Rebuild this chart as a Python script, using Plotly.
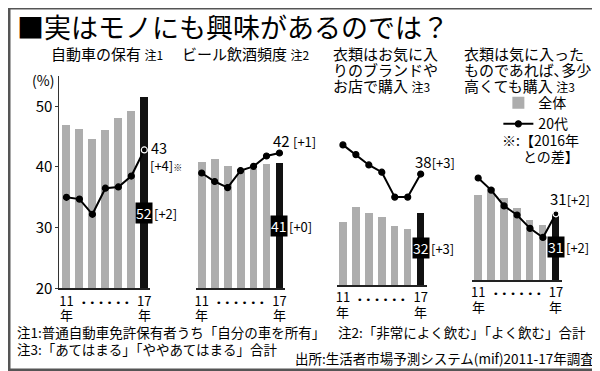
import plotly.graph_objects as go

# ---------------- data ----------------
years = ["11", "12", "13", "14", "15", "16", "17"]
year_suffix = "年"

car_all = [46.9, 46.2, 44.7, 46.1, 48.1, 49.3, 51.6]
car_20s = [35.0, 34.7, 32.2, 36.5, 36.7, 38.5, 42.8]

beer_all = [40.9, 41.4, 40.1, 39.7, 39.7, 40.5, 40.6]
beer_20s = [39.0, 37.6, 36.6, 39.4, 40.1, 41.8, 42.3]

brand_all = [30.4, 33.0, 32.0, 31.2, 29.8, 29.3, 31.9]
brand_20s = [43.1, 41.5, 39.8, 38.6, 34.5, 34.5, 38.3]

pricey_all = [34.0, 35.2, 33.5, 31.9, 29.9, 29.2, 31.0]
pricey_20s = [36.8, 34.8, 32.2, 30.7, 28.5, 27.0, 30.9]

all_labels = ["52", "41", "32", "31"]
all_diffs = ["[+2]", "[+0]", "[+3]", "[+2]"]
young_labels = ["43", "42", "38", "31"]
young_diffs = ["[+4]", "[+1]", "[+3]", "[+2]"]

panel_titles = [
    ["自動車の保有 <span style='font-size:12px'>注1</span>"],
    ["ビール飲酒頻度 <span style='font-size:12px'>注2</span>"],
    ["衣類はお気に入", "りのブランドや", "お店で購入 <span style='font-size:12px'>注3</span>"],
    ["衣類は気に入った", "ものであれば､多少", "高くても購入 <span style='font-size:12px'>注3</span>"],
]

FONT = "Noto Sans CJK JP, Noto Sans, sans-serif"
W, H = 600, 371
GRAY = "#adadad"
BLACK = "#111111"

def px(x):
    return x / W

def py(y):
    return 1 - y / H

# panel geometry (pixels)
x_domains = [(50.5, 141.6), (187.5, 277.2), (329.2, 418.9), (464.9, 554.6)]
baselines = [287.3, 287.3, 284.0, 278.7]
unit = 6.22  # px per percentage point
yr = (20, 55)

fig = go.Figure()

series = [(car_all, car_20s), (beer_all, beer_20s), (brand_all, brand_20s), (pricey_all, pricey_20s)]
xs = list(range(len(years)))

for i, (a, y20) in enumerate(series):
    sfx = "" if i == 0 else str(i + 1)
    colors = [GRAY] * (len(a) - 1) + [BLACK]
    fig.add_trace(go.Bar(
        x=xs, y=a, width=0.59, marker=dict(color=colors, line=dict(width=0)),
        name="全体", showlegend=(i == 0), legendrank=1,
        xaxis="x" + sfx, yaxis="y" + sfx, hoverinfo="skip"))
    mline = ["black"] * (len(y20) - 1) + ["white" if y20[-1] < a[-1] + 0.5 else "black"]
    fig.add_trace(go.Scatter(
        x=xs, y=y20, mode="lines+markers",
        line=dict(color="black", width=2),
        marker=dict(color="black", size=6, line=dict(color=mline, width=1.2)),
        name="20代", showlegend=(i == 0), legendrank=2,
        xaxis="x" + sfx, yaxis="y" + sfx, hoverinfo="skip"))

layout = dict(
    width=W, height=H, margin=dict(l=0, r=0, t=0, b=0),
    paper_bgcolor="white", plot_bgcolor="white",
    font=dict(family=FONT, color="black"),
    bargap=0,
    showlegend=True,
    legend=dict(x=px(491), y=py(81), xanchor="left", yanchor="top",
                font=dict(size=14, family=FONT), bgcolor="rgba(0,0,0,0)",
                itemwidth=30, tracegroupgap=0, traceorder="normal"),
)

tick_idx = [0, len(years) - 1]
for i in range(4):
    sfx = "" if i == 0 else str(i + 1)
    x0, x1 = x_domains[i]
    b = baselines[i]
    top = b - unit * (yr[1] - yr[0])
    layout["xaxis" + sfx] = dict(
        domain=[px(x0), px(x1)], range=[-0.55 if i == 0 else -0.45, 6.45],
        anchor="y" + sfx, showline=True, linecolor="#222", linewidth=1.5,
        showgrid=False, zeroline=False, ticks="",
        tickvals=tick_idx, ticktext=[years[k] for k in tick_idx],
        tickfont=dict(size=13, family=FONT, color="black"), fixedrange=True)
    ydict = dict(domain=[py(b), py(top)], range=list(yr), anchor="x" + sfx,
                 showgrid=False, zeroline=False, fixedrange=True)
    if i == 0:
        ydict.update(showline=True, linecolor="#333", linewidth=1,
                     tickvals=[20, 30, 40, 50], ticks="outside", ticklen=3,
                     tickcolor="#333", tickfont=dict(size=15, family=FONT, color="black"))
    else:
        ydict.update(visible=False)
    layout["yaxis" + sfx] = ydict

fig.update_layout(**layout)

ann = []
# title
ann.append(dict(text="■実はモノにも興味があるのでは？", x=px(6), y=py(19), xref="paper", yref="paper",
                xanchor="left", yanchor="middle", showarrow=False,
                font=dict(size=27, family=FONT, color="black")))
# panel titles
title_x = [40, 172, 323, 455]
for i, lines in enumerate(panel_titles):
    for j, t in enumerate(lines):
        ann.append(dict(text=t, x=px(title_x[i]), y=py(47 + 16 * j), xref="paper", yref="paper",
                        xanchor="left", yanchor="middle", showarrow=False,
                        font=dict(size=15, family=FONT, color="black")))
# (%)
ann.append(dict(text="(%)", x=px(47), y=py(74), xref="paper", yref="paper", xanchor="right",
                yanchor="middle", showarrow=False, font=dict(size=14, family=FONT)))
# legend note
ann.append(dict(text="※:【2016年", x=px(574), y=py(135.5), xref="paper", yref="paper", xanchor="right",
                yanchor="middle", showarrow=False, font=dict(size=14, family=FONT)))
ann.append(dict(text="との差】", x=px(574), y=py(152), xref="paper", yref="paper", xanchor="right",
                yanchor="middle", showarrow=False, font=dict(size=14, family=FONT)))

for i in range(4):
    sfx = "" if i == 0 else str(i + 1)
    # dots between years
    ann.append(dict(text="• • • • • •", x=3, y=0, xref="x" + sfx, yref="y" + sfx + " domain",
                    xanchor="center", yanchor="middle", yshift=-14, showarrow=False,
                    font=dict(size=9.5, family="DejaVu Sans")))
    # 年 under the tick years
    for k in tick_idx:
        ann.append(dict(text=year_suffix, x=k, y=0, xref="x" + sfx, yref="y" + sfx + " domain",
                        xanchor="center", yanchor="middle", yshift=-26.5, showarrow=False,
                        font=dict(size=13, family=FONT)))

# value labels for 全体 (black boxes)
box_y = [32.4, 30.2, 26.1, 25.4]
for i in range(4):
    sfx = "" if i == 0 else str(i + 1)
    ann.append(dict(text=all_labels[i], x=6, y=box_y[i], xref="x" + sfx, yref="y" + sfx,
                    xanchor="center", yanchor="middle", showarrow=False, bgcolor="black",
                    borderpad=0, font=dict(size=14, color="white", family=FONT)))
    ann.append(dict(text=all_diffs[i], x=6, y=box_y[i], xref="x" + sfx, yref="y" + sfx,
                    xanchor="left", yanchor="middle", xshift=8, showarrow=False,
                    font=dict(size=13, family=FONT)))

# value labels for 20代
ann.append(dict(text=young_labels[0], x=6, y=car_20s[-1], xref="x", yref="y", xanchor="left",
                yanchor="middle", xshift=5, yshift=2, showarrow=False, font=dict(size=14.5, family=FONT)))
ann.append(dict(text=young_diffs[0] + "<span style='font-size:9px'>※</span>", x=6, y=car_20s[-1],
                xref="x", yref="y", xanchor="left", yanchor="middle", xshift=4, yshift=-15.5,
                showarrow=False, font=dict(size=13, family=FONT)))
shifts = [None, (-8, 12), (-8, 13), (-8, 15)]
lasts = [car_20s[-1], beer_20s[-1], brand_20s[-1], pricey_20s[-1]]
for i in range(1, 4):
    sfx = str(i + 1)
    sep = " " if i == 1 else ""
    ann.append(dict(text=young_labels[i] + sep + "<span style='font-size:13px'>" + young_diffs[i] + "</span>",
                    x=6, y=lasts[i], xref="x" + sfx, yref="y" + sfx, xanchor="left", yanchor="middle",
                    xshift=shifts[i][0], yshift=shifts[i][1], showarrow=False,
                    font=dict(size=15, family=FONT)))

# footnotes
foot = [
    ("注1:普通自動車免許保有者うち「自分の車を所有」", 6, 332, "left"),
    ("注2:「非常によく飲む」「よく飲む」合計", 328, 332, "left"),
    ("注3:「あてはまる」「ややあてはまる」合計", 6, 349.5, "left"),
    ("出所:生活者市場予測システム(mif)2011-17年調査", 589, 359, "right"),
]
for t, x, y, a in foot:
    ann.append(dict(text=t, x=px(x), y=py(y), xref="paper", yref="paper", xanchor=a,
                    yanchor="middle", showarrow=False, font=dict(size=13.5, family=FONT)))

fig.update_layout(annotations=ann)

# frame
fig.add_shape(type="rect", xref="paper", yref="paper", x0=0, y0=0, x1=1, y1=1,
              line=dict(color="#555", width=3), fillcolor="rgba(0,0,0,0)", layer="above")

fig.write_html("out.html")
